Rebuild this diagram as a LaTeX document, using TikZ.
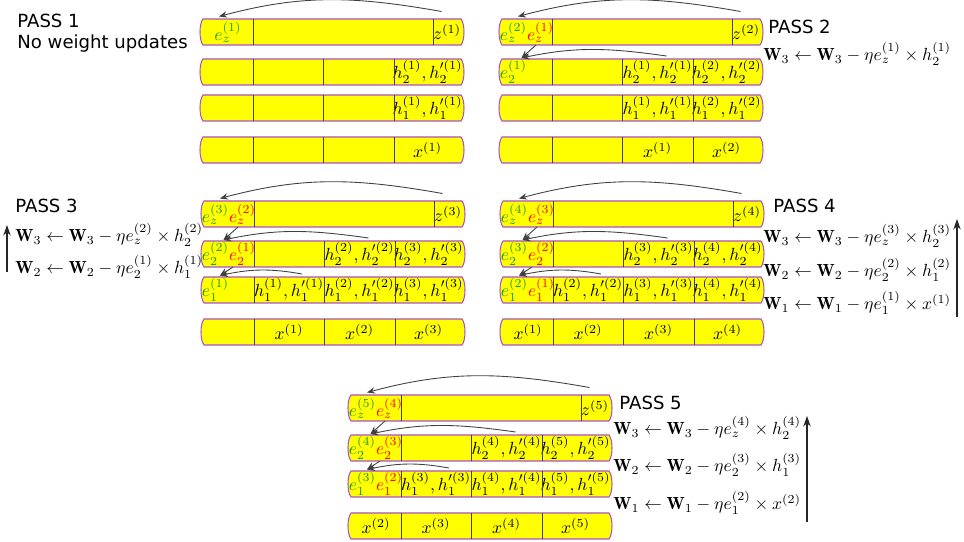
\documentclass[tikz,border=0pt]{standalone}
\usepackage{amsmath, amssymb}
\usepackage{xcolor}
\usepackage{fontspec}
\usepackage{tikz}
\usetikzlibrary{arrows.meta}

\newfontfamily\passfont{DejaVu Sans}

\definecolor{tapefill}{RGB}{255,255,0}
\definecolor{tapeline}{RGB}{170,80,200}
\definecolor{egreen}{RGB}{30,150,30}
\definecolor{ered}{RGB}{255,0,0}

\tikzset{
	tape/.style = {fill = tapefill, draw = tapeline, line width = 0.6pt},
	cell/.style = {minimum height = 5.2mm, inner sep = 0pt, outer sep = 0pt},
	sep/.style = {black!75, line width = 0.5pt},
	backprop/.style = {-{Stealth[length = 4.5pt, width = 3.6pt]}, black!75, line width = 0.5pt},
	sweep/.style = {-{Stealth[length = 6pt, width = 4.2pt]}, black!85, line width = 0.8pt},
	passlabel/.style = {font = \passfont\fontsize{10.3}{12}\selectfont, anchor = base west, inner sep = 0pt},
	update/.style = {anchor = base west, inner sep = 0pt}
}

\newcommand{\enew}[2]{\textcolor{egreen}{e_{#1}^{(#2)}}}
\newcommand{\eold}[2]{\textcolor{ered}{e_{#1}^{(#2)}}}
\newcommand{\hpair}[2]{h_{#1}^{(#2)},h'^{(#2)}_{#1}}
\newcommand{\upd}[4]{\mathbf{W}_{#1} \leftarrow \mathbf{W}_{#1} - \eta e_{#2}^{(#3)} \times #4}

% yellow tape with bulged ends, top left corner at (#1,#2)
\newcommand{\tapeshape}[2]{%
	\filldraw[tape] (#1,#2) -- ({#1+25.8},#2)
		.. controls +(0.4,-0.5) and +(0.4,0.5) .. ({#1+25.8},{#2-2.6})
		-- (#1,{#2-2.6})
		.. controls +(-0.4,0.5) and +(-0.4,-0.5) .. (#1,#2) -- cycle;}

% output row: error cell, empty middle, output cell
\newcommand{\tapez}[5]{%
	\tapeshape{#2}{#3}
	\node[cell, minimum width = 10mm, anchor = north west] (#1a) at (#2,#3) {\makebox[0pt]{\ensuremath{#4}}};
	\node[cell, minimum width = 36mm, anchor = west] (#1b) at (#1a.east) {};
	\node[cell, minimum width = 5.6mm, anchor = west] (#1c) at (#1b.east) {\makebox[0pt]{\ensuremath{#5}}};
	\draw[sep] (#1b.north west) -- (#1b.south west) (#1c.north west) -- (#1c.south west);}

% four cell row
\newcommand{\tapefour}[7]{%
	\tapeshape{#2}{#3}
	\node[cell, minimum width = 10mm, anchor = north west] (#1a) at (#2,#3) {\makebox[0pt]{\ensuremath{#4}}};
	\node[cell, minimum width = 14mm, anchor = west] (#1b) at (#1a.east) {\makebox[0pt]{\ensuremath{#5}}};
	\node[cell, minimum width = 14.2mm, anchor = west] (#1c) at (#1b.east) {\makebox[0pt]{\ensuremath{#6}}};
	\node[cell, minimum width = 13.4mm, anchor = west] (#1d) at (#1c.east) {\makebox[0pt]{\ensuremath{#7}}};
	\draw[sep] (#1b.north west) -- (#1b.south west) (#1c.north west) -- (#1c.south west)
		(#1d.north west) -- (#1d.south west);}

\begin{document}
\begin{tikzpicture}[x = 2mm, y = 2mm]
	\useasboundingbox (0,0) rectangle (96.4,-54.2);
	
	% pass 1
	\tapez{p1z}{20.3}{-1.9}{\enew{z}{1}}{z^{(1)}}
	\tapefour{p1h2}{20.3}{-5.9}{}{}{}{\hpair{2}{1}}
	\tapefour{p1h1}{20.3}{-9.5}{}{}{}{\hpair{1}{1}}
	\tapefour{p1x}{20.3}{-13.7}{}{}{}{x^{(1)}}
	\node[passlabel] (p1title) at (1.7,-2.8) {PASS 1};
	\node[passlabel] (p1note) at (1.7,-4.9) {No weight updates};
	
	% pass 2
	\tapez{p2z}{50.2}{-1.9}{\enew{z}{2}\eold{z}{1}}{z^{(2)}}
	\tapefour{p2h2}{50.2}{-5.9}{\enew{2}{1}\hphantom{e_2^{(1)}}}{}{\hpair{2}{1}}{\hpair{2}{2}}
	\tapefour{p2h1}{50.2}{-9.5}{}{}{\hpair{1}{1}}{\hpair{1}{2}}
	\tapefour{p2x}{50.2}{-13.7}{}{}{x^{(1)}}{x^{(2)}}
	\node[passlabel] (p2title) at (76.8,-3.4) {PASS 2};
	\node[update] (p2w3) at (76.3,-6.1) {$\upd{3}{z}{1}{h_2^{(1)}}$};
	
	% pass 3
	\tapez{p3z}{20.4}{-20.1}{\enew{z}{3}\eold{z}{2}}{z^{(3)}}
	\tapefour{p3h2}{20.4}{-24.1}{\enew{2}{2}\eold{2}{1}}{}{\hpair{2}{2}}{\hpair{2}{3}}
	\tapefour{p3h1}{20.4}{-27.7}{\enew{1}{1}\hphantom{e_1^{(1)}}}{\hpair{1}{1}}{\hpair{1}{2}}{\hpair{1}{3}}
	\tapefour{p3x}{20.4}{-31.9}{}{x^{(1)}}{x^{(2)}}{x^{(3)}}
	\node[passlabel] (p3title) at (1.5,-21.3) {PASS 3};
	\node[update] (p3w3) at (1.5,-24.2) {$\upd{3}{z}{2}{h_2^{(2)}}$};
	\node[update] (p3w2) at (1.5,-27.4) {$\upd{2}{2}{1}{h_1^{(1)}}$};
	\coordinate (p3low) at (0.7,-27.2);
	\coordinate (p3high) at (0.7,-22.5);
	\draw[sweep] (p3low) -- (p3high);
	
	% pass 4
	\tapez{p4z}{50.3}{-20.1}{\enew{z}{4}\eold{z}{3}}{z^{(4)}}
	\tapefour{p4h2}{50.3}{-24.1}{\enew{2}{3}\eold{2}{2}}{}{\hpair{2}{3}}{\hpair{2}{4}}
	\tapefour{p4h1}{50.3}{-27.7}{\enew{1}{2}\eold{1}{1}}{\hpair{1}{2}}{\hpair{1}{3}}{\hpair{1}{4}}
	\tapefour{p4x}{50.3}{-31.9}{x^{(1)}}{x^{(2)}}{x^{(3)}}{x^{(4)}}
	\node[passlabel] (p4title) at (77.3,-21.3) {PASS 4};
	\node[update] (p4w3) at (76.3,-24.3) {$\upd{3}{z}{3}{h_2^{(3)}}$};
	\node[update] (p4w2) at (76.3,-27.7) {$\upd{2}{2}{2}{h_1^{(2)}}$};
	\node[update] (p4w1) at (76.3,-31.0) {$\upd{1}{1}{1}{x^{(1)}}$};
	\coordinate (p4low) at (95.7,-31.7);
	\coordinate (p4high) at (95.7,-21.9);
	\draw[sweep] (p4low) -- (p4high);
	
	% pass 5
	\tapez{p5z}{35.1}{-39.5}{\enew{z}{5}\eold{z}{4}}{z^{(5)}}
	\tapefour{p5h2}{35.1}{-43.5}{\enew{2}{4}\eold{2}{3}}{}{\hpair{2}{4}}{\hpair{2}{5}}
	\tapefour{p5h1}{35.1}{-47.1}{\enew{1}{3}\eold{1}{2}}{\hpair{1}{3}}{\hpair{1}{4}}{\hpair{1}{5}}
	\tapefour{p5x}{35.1}{-51.3}{x^{(2)}}{x^{(3)}}{x^{(4)}}{x^{(5)}}
	\node[passlabel] (p5title) at (61.9,-41.0) {PASS 5};
	\node[update] (p5w3) at (61.3,-43.5) {$\upd{3}{z}{4}{h_2^{(4)}}$};
	\node[update] (p5w2) at (61.3,-47.2) {$\upd{2}{2}{3}{h_1^{(3)}}$};
	\node[update] (p5w1) at (61.3,-51.0) {$\upd{1}{1}{2}{x^{(2)}}$};
	\coordinate (p5low) at (80.7,-52.2);
	\coordinate (p5high) at (80.7,-41.6);
	\draw[sweep] (p5low) -- (p5high);
	
	% errors sent back
	\foreach \p in {p1,p2,p3,p4,p5}
		\draw[backprop] ([xshift = -1.1mm, yshift = 1.5mm]\p zc.north) to[out = 170, in = 15] ([xshift = -1.8mm, yshift = 0.5mm]\p za.north);
	\foreach \p in {p2,p3,p4,p5} {
		\draw[backprop] ([xshift = 1.8mm, yshift = 0.6mm]\p h2c.north) to[out = 172, in = 12] ([xshift = -1.1mm, yshift = 0.2mm]\p h2a.north);
		\draw[backprop] ([xshift = 1.8mm]\p za.south) -- ([xshift = -1.1mm, yshift = 0.2mm]\p h2a.north);
	}
	\foreach \p in {p3,p4,p5} {
		\draw[backprop] ([xshift = 2.6mm, yshift = 0.6mm]\p h1b.north) to[out = 170, in = 12] ([xshift = -1.8mm, yshift = 0.3mm]\p h1a.north);
		\draw[backprop] ([xshift = 0.8mm]\p h2a.south) -- ([xshift = -1.8mm, yshift = 0.3mm]\p h1a.north);
	}
\end{tikzpicture}
\end{document}
